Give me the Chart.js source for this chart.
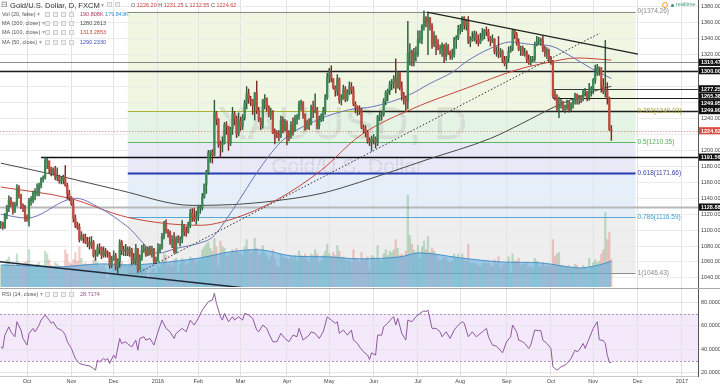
<!DOCTYPE html>
<html>
<head>
<meta charset="utf-8">
<title>Gold/U.S. Dollar, D, FXCM</title>
<script src="https://cdn.jsdelivr.net/npm/chart.js@4.4.1/dist/chart.umd.min.js"></script>
<style>
  html, body { margin: 0; padding: 0; background: #fff; }
  body { position: relative; width: 720px; height: 385px; overflow: hidden;
         font-family: "Liberation Sans", Arial, sans-serif; }
  canvas { position: absolute; left: 0; }
  #main { top: 0; }
  #rsi { top: 288px; }
  .t { position: absolute; white-space: nowrap; line-height: 1; }
  .ic { position: absolute; width: 5px; height: 5px; border: 1px solid #cfcfcf; background: #f1f1f1; box-sizing: border-box; }
</style>
</head>
<body>
<canvas id="main" width="720" height="288"></canvas>
<canvas id="rsi" width="720" height="97"></canvas>
<script>
// ── data ──────────────────────────────────────────────
const monthNames = ['Oct', 'Nov', 'Dec', '2016', 'Feb', 'Mar', 'Apr', 'May', 'Jun', 'Jul', 'Aug', 'Sep', 'Oct', 'Nov', 'Dec', '2017'];
const monthStartBars = [0, 22, 43, 65, 85, 106, 129, 150, 172, 194, 215, 238, 260, 281, 303, 325];

const firstBar = -13;      // 14 Sep 2015
const firstOpen = 1106;

// daily [high, low, close]
const sep15 = [[1111,1102,1108],[1110,1101,1103],[1121,1102,1119],[1131,1114,1129],[1143,1123,1138],[1141,1129,1133],[1135,1120,1124],[1135,1122,1131],[1157,1130,1153],[1156,1140,1145],[1141,1127,1132],[1133,1123,1127],[1131,1111,1115]];
const oct15 = [[1119,1111,1114],[1140,1105,1137],[1142,1131,1137],[1149,1134,1146],[1152,1138,1146],[1158,1143,1146],[1159,1143,1156],[1166,1153,1164],[1168,1160,1166],[1191,1164,1187],[1190,1177,1187],[1184,1171,1177],[1179,1168,1172],[1178,1169,1176],[1180,1163,1166],[1178,1162,1167],[1169,1159,1162],[1167,1158,1163],[1169,1158,1166],[1181,1155,1156],[1159,1139,1146],[1150,1137,1141]];
const nov15 = [[1142,1131,1133],[1138,1110,1115],[1119,1103,1105],[1110,1101,1104],[1108,1085,1088],[1098,1087,1093],[1095,1084,1091],[1095,1083,1085],[1091,1079,1084],[1091,1076,1081],[1092,1077,1085],[1087,1066,1068],[1075,1062,1069],[1082,1067,1078],[1083,1070,1077],[1079,1064,1068],[1079,1066,1074],[1077,1066,1071],[1074,1066,1070],[1072,1052,1056],[1067,1053,1064]];
const dec15 = [[1074,1062,1068],[1071,1050,1054],[1064,1046,1061],[1088,1053,1085],[1087,1069,1074],[1080,1068,1075],[1082,1068,1076],[1079,1068,1071],[1079,1067,1075],[1077,1057,1062],[1071,1058,1062],[1082,1057,1077],[1074,1047,1050],[1069,1050,1066],[1081,1062,1075],[1082,1072,1075],[1079,1067,1069],[1079,1068,1076],[1080,1069,1069],[1080,1066,1076],[1077,1058,1061],[1066,1058,1061]];
const jan16 = [[1083,1061,1075],[1082,1072,1078],[1096,1076,1092],[1111,1089,1109],[1113,1096,1098],[1101,1091,1097],[1099,1082,1086],[1093,1078,1087],[1097,1071,1073],[1092,1071,1089],[1093,1084,1088],[1092,1080,1089],[1112,1084,1106],[1107,1093,1098],[1104,1092,1097],[1110,1096,1106],[1126,1103,1121],[1127,1111,1116],[1127,1111,1114],[1124,1107,1118]];
const feb16 = [[1130,1112,1128],[1131,1121,1128],[1146,1125,1141],[1158,1140,1157],[1175,1146,1173],[1200,1170,1197],[1200,1185,1198],[1201,1184,1194],[1263,1193,1247],[1249,1232,1239],[1240,1204,1208],[1212,1191,1207],[1217,1198,1209],[1235,1208,1232],[1236,1220,1230],[1230,1200,1209],[1229,1206,1227],[1254,1220,1246],[1249,1232,1240],[1243,1216,1221],[1247,1218,1237]];
const mar16 = [[1242,1225,1230],[1245,1226,1241],[1263,1238,1259],[1280,1252,1271],[1277,1259,1264],[1268,1256,1263],[1264,1245,1257],[1273,1238,1272],[1287,1246,1250],[1254,1236,1239],[1241,1226,1232],[1264,1228,1263],[1270,1252,1265],[1266,1249,1255],[1256,1242,1245],[1253,1239,1248],[1250,1221,1222],[1227,1208,1221],[1225,1216,1220],[1225,1212,1218],[1243,1216,1238],[1242,1222,1226],[1239,1224,1233]];
const apr16 = [[1237,1207,1222],[1225,1212,1218],[1236,1215,1232],[1241,1219,1224],[1244,1224,1240],[1245,1233,1243],[1262,1239,1258],[1263,1250,1261],[1261,1240,1245],[1246,1225,1227],[1238,1227,1235],[1240,1226,1233],[1257,1232,1254],[1262,1241,1249],[1271,1247,1250],[1254,1227,1231],[1243,1227,1238],[1246,1236,1243],[1254,1237,1249],[1270,1245,1266],[1297,1264,1292]];
const may16 = [[1303,1285,1295],[1306,1286,1290],[1290,1277,1279],[1281,1268,1274],[1295,1269,1290],[1291,1259,1263],[1270,1257,1265],[1282,1264,1277],[1280,1261,1264],[1276,1262,1273],[1286,1270,1280],[1285,1271,1276],[1280,1256,1258],[1261,1247,1254],[1256,1244,1252],[1256,1245,1250],[1253,1227,1229],[1232,1222,1227],[1231,1217,1223],[1225,1209,1212],[1216,1206,1211],[1218,1199,1214]];
const jun16 = [[1220,1208,1215],[1217,1203,1210],[1244,1206,1242],[1248,1237,1244],[1249,1238,1245],[1265,1243,1262],[1275,1257,1272],[1277,1262,1275],[1287,1270,1284],[1289,1276,1285],[1294,1278,1290],[1315,1272,1278],[1299,1279,1298],[1297,1276,1279],[1286,1263,1269],[1273,1258,1265],[1268,1250,1262],[1362,1252,1322],[1334,1307,1324],[1326,1306,1313],[1328,1306,1321],[1330,1312,1321]];
const jul16 = [[1350,1318,1339],[1350,1335,1340],[1358,1334,1356],[1375,1351,1366],[1368,1355,1360],[1372,1320,1366],[1367,1351,1356],[1359,1328,1333],[1349,1330,1343],[1344,1320,1333],[1339,1326,1327],[1332,1321,1328],[1335,1318,1332],[1333,1310,1318],[1335,1313,1330],[1333,1320,1323],[1325,1314,1318],[1327,1314,1320],[1342,1317,1340],[1344,1328,1341],[1357,1339,1351]];
const aug16 = [[1358,1346,1352],[1368,1349,1367],[1368,1352,1357],[1364,1351,1363],[1368,1334,1336],[1343,1330,1339],[1349,1337,1341],[1350,1337,1346],[1349,1334,1339],[1345,1331,1335],[1347,1334,1339],[1353,1338,1346],[1352,1340,1350],[1355,1344,1349],[1352,1337,1341],[1343,1331,1338],[1345,1335,1340],[1340,1321,1324],[1330,1318,1324],[1343,1316,1321],[1328,1317,1324],[1326,1310,1313],[1318,1306,1309]];
const sep16 = [[1318,1302,1316],[1330,1311,1324],[1331,1323,1327],[1352,1325,1350],[1352,1340,1346],[1348,1332,1335],[1340,1325,1327],[1331,1319,1329],[1331,1319,1320],[1328,1318,1323],[1325,1310,1314],[1320,1308,1310],[1318,1307,1314],[1318,1311,1315],[1336,1312,1333],[1343,1331,1337],[1342,1333,1338],[1341,1332,1339],[1344,1324,1327],[1331,1318,1323],[1329,1315,1323],[1327,1310,1316]];
const oct16 = [[1318,1308,1312],[1313,1266,1269],[1275,1263,1266],[1270,1250,1253],[1267,1241,1257],[1264,1253,1260],[1262,1250,1254],[1257,1247,1254],[1263,1251,1257],[1262,1248,1251],[1260,1250,1258],[1264,1253,1262],[1272,1258,1270],[1271,1258,1265],[1269,1258,1266],[1268,1260,1264],[1276,1262,1274],[1278,1268,1274],[1273,1262,1266],[1284,1263,1276],[1280,1268,1277]];
const nov16 = [[1290,1271,1288],[1307,1284,1297],[1308,1294,1303],[1305,1294,1304],[1285,1273,1280],[1290,1271,1274],[1338,1267,1275],[1285,1258,1266],[1267,1225,1226.2],[1231.25,1212.55,1224.62]];

// daily volume, thousands
const volSep15 = [150,140,160,190,210,150,160,140,230,170,140,150,170];
const volOct15 = [180,260,150,140,150,160,170,140,150,250,230,190,150,140,170,160,150,120,130,260,230,170];
const volNov15 = [160,190,240,180,280,200,160,170,150,160,150,190,200,170,150,140,150,130,60,120,140];
const volDec15 = [160,190,200,260,180,150,160,150,160,170,180,200,240,220,140,130,120,60,100,120,130,90];
const volJan16 = [150,140,180,230,220,150,160,140,190,200,110,160,200,180,150,170,210,200,190,170];
const volFeb16 = [190,200,260,280,300,310,270,250,340,280,150,320,280,270,210,220,240,260,250,270,240];
const volMar16 = [230,220,280,330,260,230,250,340,270,220,230,290,240,220,190,210,260,200,150,140,230,210,200];
const volApr16 = [200,190,210,200,220,180,250,220,210,230,190,170,230,220,260,230,170,180,220,250,300];
const volMay16 = [230,210,240,220,290,250,200,210,190,180,190,170,260,200,180,170,240,190,200,210,120,220];
const volJun16 = [210,190,290,190,180,230,260,220,250,240,260,330,270,220,230,210,250,640,360,300,260,240];
const volJul16 = [290,200,280,320,260,350,240,270,250,230,200,180,190,210,200,180,170,180,230,200,230];
const volAug16 = [190,230,200,180,300,170,160,170,160,150,140,160,170,160,170,150,140,190,160,210,130,150,160];
const volSep16 = [170,210,90,230,180,180,200,150,160,160,170,140,140,130,200,180,150,140,170,150,140,150];
const volOct16 = [140,330,210,230,240,150,150,140,140,150,130,140,160,150,130,130,150,140,120,200,140];
const volNov16 = [170,190,170,180,230,260,520,330,380,190.808];

// indicator readings [bar, value]
const volMaPoints = [[-13,154],[1,147],[16,140],[36,161],[51,154],[66,168],[86,203],[101,245],[116,259],[131,217],[150,210],[165,196],[185,210],[195,238],[215,203],[235,175],[255,168],[274,133],[284,154],[290,179.843]];
const ma200Points = [[-13,1184],[16,1168],[46,1150],[82,1131],[102,1132],[124,1137],[146,1146],[165,1160],[198,1188],[230,1215],[245,1233],[263,1256],[286,1278],[290,1280.2613]];
const ma100Points = [[-13,1154],[21,1140],[50,1116],[86,1106],[102,1114],[124,1138],[146,1175],[165,1218],[192,1253],[218,1278],[243,1301],[258,1310],[273,1316],[290,1313.2853]];
const ma50Points = [[-13,1120],[0,1115],[20,1138],[24,1140],[36,1128],[50,1104],[65,1071],[74,1077],[86,1084],[92,1091],[102,1125],[116,1179],[127,1213],[144,1238],[160,1251],[172,1255],[190,1270],[200,1284],[211,1298],[219,1313],[230,1328],[240,1336],[250,1333],[260,1331],[270,1318],[280,1303],[290,1290.233]];
const rsiPoints = [[-13,42.1],[-12,40.8],[-11,52],[-9,59],[-8,54.8],[-6,50.6],[-5,63.3],[-3,56.3],[-2,49.2],[0,43.6],[1,53.5],[3,57.7],[4,54.8],[6,60.5],[7,64.7],[9,69],[11,64.7],[12,62],[13,63.3],[15,57.7],[17,56.3],[18,54.8],[19,52],[20,46.4],[22,40.8],[24,32.3],[26,28],[29,26.6],[31,26],[33,23.8],[34,22.4],[35,30.8],[36,29.4],[38,32.3],[39,30.8],[40,32.3],[41,28],[43,35.1],[44,32.3],[46,49.2],[47,45],[49,46.4],[50,44.4],[52,42.1],[54,47.8],[55,39.3],[56,49.2],[58,50.6],[59,47.8],[61,49.2],[63,43.6],[65,54.8],[67,64.7],[69,57.7],[71,54.8],[73,49.2],[74,53.5],[77,57.7],[79,54.8],[81,64.7],[83,60.5],[85,66.2],[87,73.2],[90,80.3],[92,81.7],[93,87.4],[94,78.9],[96,67.5],[97,64.7],[98,70.4],[100,63.3],[102,67.5],[103,64.7],[105,67.5],[107,64.7],[108,70.4],[110,69],[112,66.2],[114,56.3],[115,54.8],[117,60.5],[119,57.7],[120,53.5],[122,46.4],[124,46.4],[126,53.5],[128,49.2],[130,46.4],[132,52],[134,50.6],[135,57.7],[137,47.8],[140,52],[141,54.8],[143,53.5],[145,49.2],[147,54.8],[149,67.5],[151,64.7],[153,62],[154,63.3],[155,53.5],[157,56.3],[159,52],[161,56.3],[162,47.8],[164,45],[165,42.1],[167,37.9],[169,35.1],[170,31.4],[171,37],[173,35.1],[174,52],[176,52],[177,59],[179,62],[181,66.2],[182,67.5],[183,60.5],[184,66.2],[186,53.5],[188,47.8],[189,64.7],[191,63.3],[193,67.5],[195,70.4],[197,72.6],[198,71.8],[199,73.2],[201,57.7],[203,57.7],[205,54.8],[206,50.6],[208,54.8],[210,49.2],[212,56.3],[214,60.5],[216,63.3],[217,62],[219,50.6],[221,54.8],[223,50.6],[226,54.8],[228,57.7],[229,50.6],[231,43.6],[233,42.7],[236,37],[238,46.4],[240,50.6],[241,60.5],[243,54.8],[244,47.8],[246,46.4],[247,45],[249,40.8],[250,43.6],[252,56.3],[254,55.8],[255,55.8],[256,47.8],[258,45],[260,40.8],[261,25.2],[263,22.4],[265,25.2],[267,26.6],[268,28],[270,32.3],[272,39.3],[273,37.9],[274,39.3],[276,45],[277,40.8],[279,49.2],[281,57.7],[283,63.3],[284,48],[286,47.5],[287,45],[288,35],[289,29],[290,28.7174]];

// drawings
const fibHigh = 1374.26, fibLow = 1046.43;
const fibLevels = [0, 0.382, 0.5, 0.618, 0.786, 1];
const fibFrom = 50, fibTo = 302;
const hLinePrices = [1310.47, 1300.00, 1277.25, 1265.38, 1249.90, 1191.56, 1128.88];
const hLineFromBar = [-14, -14, 261, 261, 165, 7, -14];
const axisLabelPrices = [1310.47, 1300.00, 1277.25, 1265.38, 1249.95, 1249.90, 1191.56, 1128.88];
const trendDown = [198.5, 1373.6, 303.2, 1320.9];
const trendDotted = [56.1, 1047.4, 284.4, 1347.3];
const trendLow = [-14, 1060.4, 130, 1021.5];
const rsiBand = [30, 70];

// ── build series ──────────────────────────────────────
const hlc = [sep15, oct15, nov15, dec15, jan16, feb16, mar16, apr16, may16, jun16, jul16, aug16, sep16, oct16, nov16].flat();
const vols = [volSep15, volOct15, volNov15, volDec15, volJan16, volFeb16, volMar16, volApr16, volMay16, volJun16, volJul16, volAug16, volSep16, volOct16, volNov16].flat();
const candles = hlc.map(function(b, k) {
    return { x: firstBar + k, o: k === 0 ? firstOpen : hlc[k - 1][2], h: b[0], l: b[1], c: b[2] };
});
const last = candles[candles.length - 1];
const fibPrice = function(lv) { return fibHigh - lv * (fibHigh - fibLow); };
const pts = function(arr) { return arr.map(function(p) { return { x: p[0], y: p[1] }; }); };

const FONT = '"Liberation Sans", Arial, sans-serif';
const UP = '#3b8a55', DOWN = '#c04a3f';
const FIB_ZONE = ['#eff7e3', '#e4f4e4', '#e8e8f8', '#e4eff9', '#eeeeee'];
const FIB_LINE = ['#8a8a8a', '#a9b234', '#5cb85c', '#2a3ab0', '#55a7d8', '#8a8a8a'];
const FIB_TEXT = ['#8a8a8a', '#a3a32a', '#4caf50', '#3a46a8', '#3c9dd0', '#8a8a8a'];

function seg(ctx, x1, y1, x2, y2) { ctx.beginPath(); ctx.moveTo(x1, y1); ctx.lineTo(x2, y2); ctx.stroke(); }

// ── price pane ────────────────────────────────────────
const mainOverlay = {
    id: 'mainOverlay',
    beforeDraw: function(chart) {
        const ctx = chart.ctx, x = chart.scales.x, y = chart.scales.y;
        ctx.save();
        ctx.fillStyle = '#fff';
        ctx.fillRect(0, 0, chart.width, chart.height);
        const xl = x.getPixelForValue(fibFrom), xr = x.getPixelForValue(fibTo);
        for (let k = 0; k < fibLevels.length - 1; k++) {
            const y1 = y.getPixelForValue(fibPrice(fibLevels[k]));
            const y2 = y.getPixelForValue(fibPrice(fibLevels[k + 1]));
            ctx.fillStyle = FIB_ZONE[k];
            ctx.fillRect(xl, y1, xr - xl, y2 - y1);
        }
        // symbol watermark
        ctx.fillStyle = 'rgba(110,110,110,0.15)';
        ctx.textAlign = 'center';
        ctx.textBaseline = 'middle';
        ctx.font = '46px ' + FONT;
        ctx.fillText('XAUUSD, D', 342, 126);
        ctx.font = '21px ' + FONT;
        ctx.fillText('Gold/U.S. Dollar', 347, 167);
        ctx.restore();
    },
    beforeDatasetsDraw: function(chart) {
        const ctx = chart.ctx, a = chart.chartArea, x = chart.scales.x, y = chart.scales.y;
        ctx.save();
        ctx.beginPath(); ctx.rect(a.left, a.top, a.right - a.left, a.bottom - a.top); ctx.clip();
        const xl = x.getPixelForValue(fibFrom), xr = x.getPixelForValue(fibTo);
        fibLevels.forEach(function(lv, k) {
            const yy = Math.round(y.getPixelForValue(fibPrice(lv))) + 0.5;
            ctx.strokeStyle = FIB_LINE[k];
            ctx.lineWidth = lv === 0.618 ? 2 : 1;
            seg(ctx, xl, yy, xr, yy);
        });
        // last price
        const yp = Math.round(y.getPixelForValue(last.c)) + 0.5;
        ctx.strokeStyle = 'rgba(215,90,80,0.55)';
        ctx.lineWidth = 1;
        ctx.setLineDash([1.5, 1.5]);
        seg(ctx, a.left, yp, a.right, yp);
        ctx.setLineDash([]);
        // horizontal lines
        const hStyle = [['#8a8a8a', 1], ['#1e1e1e', 1.5], ['#3a3a3a', 1], ['#1e1e1e', 1.2], ['#1e1e1e', 1.5], ['#111', 1.5], ['#b8b8b8', 2]];
        hLinePrices.forEach(function(p, k) {
            const yy = Math.round(y.getPixelForValue(p)) + 0.5;
            ctx.strokeStyle = hStyle[k][0];
            ctx.lineWidth = hStyle[k][1];
            seg(ctx, Math.max(a.left, x.getPixelForValue(hLineFromBar[k])), yy, a.right, yy);
        });
        ctx.restore();
    },
    afterDatasetsDraw: function(chart) {
        const ctx = chart.ctx, a = chart.chartArea, x = chart.scales.x, y = chart.scales.y;
        ctx.save();
        ctx.beginPath(); ctx.rect(a.left, a.top, a.right - a.left, a.bottom - a.top); ctx.clip();
        const tl = function(t) { seg(ctx, x.getPixelForValue(t[0]), y.getPixelForValue(t[1]), x.getPixelForValue(t[2]), y.getPixelForValue(t[3])); };
        ctx.strokeStyle = '#222'; ctx.lineWidth = 1.3; tl(trendDown);
        ctx.strokeStyle = '#1c2a38'; ctx.lineWidth = 1.5; tl(trendLow);
        ctx.strokeStyle = '#333'; ctx.lineWidth = 1; ctx.setLineDash([1.5, 2]); tl(trendDotted);
        ctx.setLineDash([]);
        // fib labels
        ctx.font = '6.5px ' + FONT;
        ctx.textAlign = 'left';
        ctx.textBaseline = 'middle';
        const xr = x.getPixelForValue(fibTo);
        fibLevels.forEach(function(lv, k) {
            ctx.fillStyle = FIB_TEXT[k];
            ctx.fillText(lv + '(' + fibPrice(lv).toFixed(2) + ')', xr + 2, y.getPixelForValue(fibPrice(lv)));
        });
        ctx.restore();
    },
    afterDraw: function(chart) {
        const ctx = chart.ctx, y = chart.scales.y, a = chart.chartArea;
        const labs = axisLabelPrices.map(function(p) { return { p: p, yy: y.getPixelForValue(p), bg: '#111' }; });
        labs.push({ p: last.c, yy: y.getPixelForValue(last.c), bg: '#dc4b42' });
        labs.sort(function(m, n) { return n.yy - m.yy; });
        let prev = Infinity;
        labs.forEach(function(l) { l.yy = Math.min(l.yy, prev - 7.2); prev = l.yy; });
        ctx.save();
        ctx.font = 'bold 5.5px ' + FONT;
        ctx.textAlign = 'left';
        ctx.textBaseline = 'middle';
        labs.forEach(function(l) {
            ctx.fillStyle = l.bg;
            ctx.fillRect(a.right + 1, l.yy - 3.6, 21, 7.2);
            ctx.fillStyle = '#fff';
            ctx.fillText(l.p.toFixed(2), a.right + 3, l.yy + 0.3);
        });
        ctx.restore();
    }
};

const priceTicks = [1040, 1060, 1080, 1100, 1120, 1140, 1160, 1180, 1200, 1220, 1240, 1260, 1280, 1300, 1320, 1340, 1360, 1380];
const labelPrices = axisLabelPrices.concat([last.c]);

new Chart(document.getElementById('main'), {
    type: 'bar',
    data: {
        datasets: [
            {
                type: 'bar', yAxisID: 'y', order: 1, grouped: false,
                data: candles.map(function(d) { return { x: d.x, y: [d.o, d.c] }; }),
                backgroundColor: candles.map(function(d) { return d.c >= d.o ? UP : DOWN; }),
                barThickness: 1.6, minBarLength: 1
            },
            {
                type: 'bar', yAxisID: 'y', order: 2, grouped: false,
                data: candles.map(function(d) { return { x: d.x, y: [d.l, d.h] }; }),
                backgroundColor: candles.map(function(d) { return d.c >= d.o ? '#2c5c3c' : '#7c2c25'; }),
                barThickness: 0.8
            },
            {
                type: 'line', yAxisID: 'y', order: 4, data: pts(ma50Points),
                borderColor: '#6a74b8', borderWidth: 1, pointRadius: 0, cubicInterpolationMode: 'monotone', fill: false
            },
            {
                type: 'line', yAxisID: 'y', order: 5, data: pts(ma100Points),
                borderColor: '#c9463b', borderWidth: 1, pointRadius: 0, cubicInterpolationMode: 'monotone', fill: false
            },
            {
                type: 'line', yAxisID: 'y', order: 6, data: pts(ma200Points),
                borderColor: '#4a4a4a', borderWidth: 1, pointRadius: 0, cubicInterpolationMode: 'monotone', fill: false
            },
            {
                type: 'line', yAxisID: 'vol', order: 9, data: pts(volMaPoints),
                borderColor: 'rgba(60,140,200,0.9)', backgroundColor: 'rgba(100,175,225,0.6)',
                borderWidth: 1, pointRadius: 0, tension: 0.35, fill: 'start'
            },
            {
                type: 'bar', yAxisID: 'vol', order: 10, grouped: false,
                data: candles.map(function(d, k) { return { x: d.x, y: vols[k] }; }),
                backgroundColor: candles.map(function(d) { return d.c >= d.o ? 'rgba(90,170,110,0.35)' : 'rgba(220,110,100,0.35)'; }),
                barThickness: 1.6
            }
        ]
    },
    options: {
        responsive: false, animation: false, devicePixelRatio: 1, events: [],
        layout: { padding: { top: 0, bottom: 1, left: 0, right: 0 }, autoPadding: false },
        plugins: { legend: { display: false }, tooltip: { enabled: false } },
        scales: {
            x: {
                type: 'linear', min: -13.4, max: 333.0, offset: false,
                afterBuildTicks: function(s) { s.ticks = monthStartBars.map(function(v) { return { value: v }; }); },
                ticks: { display: false },
                grid: { color: '#e3e3e3', drawTicks: false, offset: false },
                border: { display: false },
                afterFit: function(s) { s.height = 0; s.paddingLeft = 0; s.paddingRight = 0; }
            },
            y: {
                type: 'linear', position: 'right', min: 1028.6, max: 1388.7,
                afterBuildTicks: function(s) { s.ticks = priceTicks.map(function(v) { return { value: v }; }); },
                ticks: {
                    font: { size: 5.5, family: FONT }, color: '#444', padding: 1,
                    callback: function(v) {
                        return labelPrices.some(function(p) { return Math.abs(p - v) < 6; }) ? '' : v.toFixed(2);
                    }
                },
                grid: { color: '#ececec', tickLength: 2 },
                border: { color: '#555' },
                afterFit: function(s) { s.width = 22; s.paddingTop = 0; s.paddingBottom = 0; }
            },
            vol: { type: 'linear', position: 'right', display: false, min: 0, max: 2000 }
        }
    },
    plugins: [mainOverlay]
});

// ── RSI pane ──────────────────────────────────────────
const rsiOverlay = {
    id: 'rsiOverlay',
    beforeDraw: function(chart) {
        const ctx = chart.ctx, a = chart.chartArea, y = chart.scales.y;
        ctx.save();
        ctx.fillStyle = '#fff';
        ctx.fillRect(0, 0, chart.width, chart.height);
        const y1 = y.getPixelForValue(rsiBand[1]), y0 = y.getPixelForValue(rsiBand[0]);
        ctx.fillStyle = '#f4e8fb';
        ctx.fillRect(a.left, y1, a.right - a.left, y0 - y1);
        ctx.restore();
    },
    beforeDatasetsDraw: function(chart) {
        const ctx = chart.ctx, a = chart.chartArea, y = chart.scales.y;
        ctx.save();
        ctx.strokeStyle = '#aa9cb4';
        ctx.lineWidth = 1;
        ctx.setLineDash([2, 2]);
        rsiBand.forEach(function(v) {
            const yy = Math.round(y.getPixelForValue(v)) + 0.5;
            seg(ctx, a.left, yy, a.right, yy);
        });
        ctx.restore();
    },
    afterDraw: function(chart) {
        const ctx = chart.ctx;
        ctx.save();
        ctx.strokeStyle = '#a8a8a8';
        ctx.lineWidth = 1;
        seg(ctx, 0, 0.5, chart.width, 0.5);
        ctx.restore();
    }
};

new Chart(document.getElementById('rsi'), {
    type: 'line',
    data: {
        datasets: [{
            data: pts(rsiPoints), borderColor: '#8f5aa0', borderWidth: 1, pointRadius: 0, tension: 0, fill: false
        }]
    },
    options: {
        responsive: false, animation: false, devicePixelRatio: 1, events: [],
        layout: { padding: { top: 1, bottom: 0, left: 0, right: 0 }, autoPadding: false },
        plugins: { legend: { display: false }, tooltip: { enabled: false } },
        scales: {
            x: {
                type: 'linear', min: -13.4, max: 333.0, offset: false,
                afterBuildTicks: function(s) { s.ticks = monthStartBars.map(function(v) { return { value: v }; }); },
                ticks: {
                    font: { size: 5.5, family: FONT }, color: '#444', padding: 2, autoSkip: false, maxRotation: 0,
                    callback: function(v, i) { return monthNames[i]; }
                },
                grid: { color: '#e3e3e3', drawTicks: false },
                border: { color: '#c8c8c8' },
                afterFit: function(s) { s.height = 9; s.paddingLeft = 0; s.paddingRight = 0; }
            },
            y: {
                type: 'linear', position: 'right', min: 17.45, max: 91.0,
                afterBuildTicks: function(s) { s.ticks = [20, 40, 60, 80].map(function(v) { return { value: v }; }); },
                ticks: { font: { size: 5.5, family: FONT }, color: '#444', padding: 1, callback: function(v) { return v.toFixed(4); } },
                grid: { color: '#e6e6e6', tickLength: 2 },
                border: { color: '#555' },
                afterFit: function(s) { s.width = 22; s.paddingTop = 0; s.paddingBottom = 0; }
            }
        }
    },
    plugins: [rsiOverlay]
});

// ── legends (DOM text) ───────────────────────────────
function addText(html, left, top, size, color) {
    const el = document.createElement('div');
    el.className = 't';
    el.innerHTML = html;
    el.style.left = left + 'px';
    el.style.top = top + 'px';
    el.style.fontSize = size + 'px';
    el.style.color = color;
    document.body.appendChild(el);
    return el;
}
function addIcons(left, top, n) {
    for (let k = 0; k < n; k++) {
        const el = document.createElement('div');
        el.className = 'ic';
        el.style.left = (left + k * 8) + 'px';
        el.style.top = top + 'px';
        document.body.appendChild(el);
    }
}
const RED = '#c9423a';
addText('&#8863;', 1, 0.5, 7.5, '#777');
addText('Gold/U.S. Dollar, D, FXCM', 10, 1.6, 7.6, '#333');
addText('&#9662;', 101, 3, 5.5, '#aaa');
addIcons(107, 2, 2);
addText('<span style="color:#555">O</span> ' + last.o.toFixed(2) + ' <span style="color:#555">H</span> ' + last.h.toFixed(2) +
        ' <span style="color:#555">L</span> ' + last.l.toFixed(2) + ' <span style="color:#555">C</span> ' + last.c.toFixed(2),
        131, 2.8, 5.5, RED);

const rows = [
    ['Vol (20, false)', '<span style="color:#b0335a">' + vols[vols.length - 1].toFixed(3) + 'K</span> <span style="color:#2f8fd8">' + volMaPoints[volMaPoints.length - 1][1].toFixed(3) + 'K</span>', 12],
    ['MA (200, close)', '<span style="color:#4a4a4a">' + ma200Points[ma200Points.length - 1][1].toFixed(4) + '</span>', 21.2],
    ['MA (100, close)', '<span style="color:#c9463b">' + ma100Points[ma100Points.length - 1][1].toFixed(4) + '</span>', 30.2],
    ['MA (50, close)', '<span style="color:#3f51b5">' + ma50Points[ma50Points.length - 1][1].toFixed(4) + '</span>', 39.5]
];
rows.forEach(function(r) {
    addText(r[0] + ' <span style="color:#aaa">&#9662;</span>', 2, r[2], 5.5, '#555');
    addIcons(45, r[2], 4);
    addText(r[1], 80, r[2], 5.5, '#555');
});
addText('RSI (14, close) <span style="color:#aaa">&#9662;</span>', 2, 291.8, 5.5, '#555');
addIcons(45, 291.8, 4);
addText(rsiPoints[rsiPoints.length - 1][1].toFixed(4), 80, 291.8, 5.5, '#94508e');

// realtime badge
const clock = document.createElement('div');
clock.style.cssText = 'position:absolute;left:662px;top:1.5px;width:6px;height:6px;border:1px solid #f39a1e;border-radius:50%;box-sizing:border-box;';
document.body.appendChild(clock);
const dot = document.createElement('div');
dot.style.cssText = 'position:absolute;left:671px;top:3.5px;width:3px;height:3px;background:#2a9d6a;border-radius:50%;';
document.body.appendChild(dot);
addText('realtime', 676, 2.2, 5.5, '#3f9a7a');
</script>
</body>
</html>
